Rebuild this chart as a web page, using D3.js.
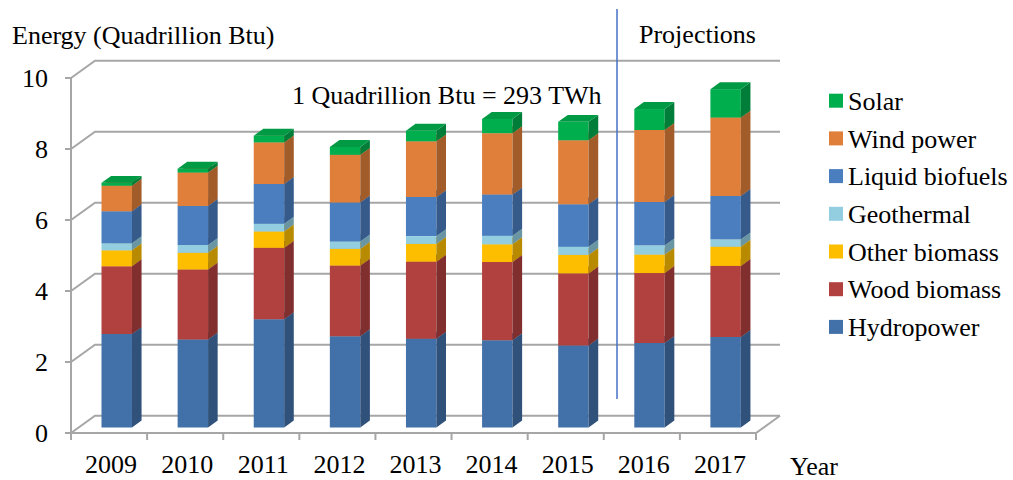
<!DOCTYPE html>
<html>
<head>
<meta charset="utf-8">
<script src="https://cdn.jsdelivr.net/npm/d3@7"></script>
<style>
  body { margin: 0; background: #fff; }
  svg text { font-family: 'Liberation Serif', 'Tinos', 'Times New Roman', 'DejaVu Serif', serif; fill: #000; }
</style>
</head>
<body>
<div id="chart"></div>
<script>
// data (quadrillion Btu)
const years = ['2009', '2010', '2011', '2012', '2013', '2014', '2015', '2016', '2017']
const seriesNames = ['Hydropower', 'Wood biomass', 'Other biomass', 'Geothermal', 'Liquid biofuels', 'Wind power', 'Solar']
const hydropower = [2.63, 2.48, 3.05, 2.57, 2.50, 2.46, 2.31, 2.38, 2.55]
const woodBiomass = [1.91, 1.97, 2.01, 1.99, 2.17, 2.20, 2.03, 1.97, 2.00]
const otherBiomass = [0.45, 0.47, 0.46, 0.47, 0.50, 0.50, 0.52, 0.52, 0.54]
const geothermal = [0.20, 0.22, 0.22, 0.21, 0.22, 0.24, 0.23, 0.26, 0.21]
const liquidBiofuels = [0.90, 1.10, 1.12, 1.10, 1.10, 1.16, 1.20, 1.22, 1.22]
const windPower = [0.72, 0.94, 1.17, 1.34, 1.57, 1.73, 1.80, 2.03, 2.21]
const solar = [0.08, 0.11, 0.19, 0.22, 0.30, 0.40, 0.52, 0.59, 0.80]
const yTicks = [0, 2, 4, 6, 8, 10]
const colors = ['#4270a8', '#b1413f', '#fdbe00', '#92cde0', '#4a7ebf', '#e07f3a', '#00ae4e']

const allSeries = [hydropower, woodBiomass, otherBiomass, geothermal, liquidBiofuels, windPower, solar]
const table = years.map((yr, i) => {
    const row = { year: yr }
    seriesNames.forEach((n, k) => { row[n] = allSeries[k][i] })
    return row
})

//variables
const width = 1013
const height = 480
const depthX = 24
const depthY = 17.3
const barFront = 0.32
const barBack = 0.72
const gridColor = '#a6a6a6'
const fontFamily = "'Liberation Serif', 'Tinos', 'Times New Roman', 'DejaVu Serif', serif"

const x = d3.scaleBand()
    .domain(years)
    .range([71, 756])
    .paddingInner(0.6)
    .paddingOuter(0.3)
const y = d3.scaleLinear()
    .domain([0, 10])
    .range([433, 78])

// oblique projection: t = depth (0 front, 1 back wall)
const proj = (px, py, t) => [px + t * depthX, py - t * depthY]
const poly = (pts) => 'M' + pts.map((p) => p.join(',')).join('L') + 'Z'

const svg = d3.select('#chart')
    .append('svg')
    .attr('width', width)
    .attr('height', height)
    .attr('font-family', fontFamily)

//walls and gridlines
const grid = svg.append('g').attr('stroke', gridColor).attr('stroke-width', 2).attr('fill', 'none')
yTicks.forEach((v) => {
    const f0 = [x.range()[0], y(v)]
    const b0 = proj(x.range()[0], y(v), 1)
    const b1 = proj(x.range()[1], y(v), 1)
    grid.append('path').attr('d', 'M' + f0 + 'L' + b0 + 'L' + b1)
    grid.append('line')
        .attr('x1', f0[0] - 6).attr('x2', f0[0])
        .attr('y1', f0[1]).attr('y2', f0[1])
})
// front vertical axis
grid.append('line')
    .attr('x1', x.range()[0]).attr('x2', x.range()[0])
    .attr('y1', y(0)).attr('y2', y(10))
// floor front edge and right edge
grid.append('path')
    .attr('d', 'M' + [x.range()[0], y(0)] + 'L' + [x.range()[1], y(0)] + 'L' + proj(x.range()[1], y(0), 1))
// category ticks
const step = x.step()
d3.range(years.length + 1).forEach((k) => {
    const tx = x.range()[0] + k * step
    grid.append('line')
        .attr('x1', tx).attr('x2', tx)
        .attr('y1', y(0)).attr('y2', y(0) + 7)
})

//bars
const stack = d3.stack().keys(seriesNames)(table)
const bars = svg.append('g')
years.forEach((yr, i) => {
    stack.forEach((layer, k) => {
        const d = layer[i]
        const c = colors[k]
        const x0 = x(yr)
        const x1 = x0 + x.bandwidth()
        const yTop = y(d[1])
        const yBot = y(d[0])
        // front
        bars.append('path')
            .attr('d', poly([proj(x0, yBot, barFront), proj(x1, yBot, barFront), proj(x1, yTop, barFront), proj(x0, yTop, barFront)]))
            .attr('fill', c)
        // side
        bars.append('path')
            .attr('d', poly([proj(x1, yBot, barFront), proj(x1, yBot, barBack), proj(x1, yTop, barBack), proj(x1, yTop, barFront)]))
            .attr('fill', d3.color(c).darker(0.9))
        // top (only the last one stays visible)
        bars.append('path')
            .attr('d', poly([proj(x0, yTop, barFront), proj(x1, yTop, barFront), proj(x1, yTop, barBack), proj(x0, yTop, barBack)]))
            .attr('fill', d3.color(c).darker(0.35))
    })
})

//axis labels
const fs = 26
const label = (sel) => sel.attr('font-family', fontFamily).style('font-size', fs + 'px')
svg.append('g')
    .selectAll('text')
    .data(yTicks)
    .enter()
    .append('text')
    .attr('x', 48)
    .attr('y', (d) => y(d))
    .attr('dy', '0.35em')
    .attr('text-anchor', 'end')
    .call(label)
    .text((d) => d)

svg.append('g')
    .selectAll('text')
    .data(years)
    .enter()
    .append('text')
    .attr('x', (d) => x(d) + x.bandwidth() / 2 + 2)
    .attr('y', 473)
    .attr('text-anchor', 'middle')
    .call(label)
    .text((d) => d)

svg.append('text').attr('x', 12).attr('y', 44).call(label).text('Energy (Quadrillion Btu)')
svg.append('text').attr('x', 790).attr('y', 475).call(label).text('Year')
svg.append('text').attr('x', 292).attr('y', 104).call(label).text('1 Quadrillion Btu = 293 TWh')
svg.append('text').attr('x', 639).attr('y', 43).call(label).text('Projections')

// projections divider
svg.append('line')
    .attr('x1', 617).attr('x2', 617)
    .attr('y1', 9).attr('y2', 399)
    .attr('stroke', '#4472c4')
    .attr('stroke-width', 1.5)

//legend
const legend = svg.append('g')
    .selectAll('g')
    .data(seriesNames.slice().reverse())
    .enter()
    .append('g')
    .attr('transform', (d, i) => `translate(829, ${100.7 + i * 37.7})`)
legend.append('rect')
    .attr('x', 0).attr('y', -7)
    .attr('width', 14).attr('height', 14)
    .attr('fill', (d) => colors[seriesNames.indexOf(d)])
legend.append('text')
    .attr('x', 19)
    .attr('dy', '0.35em')
    .call(label)
    .text((d) => d)
</script>
</body>
</html>
